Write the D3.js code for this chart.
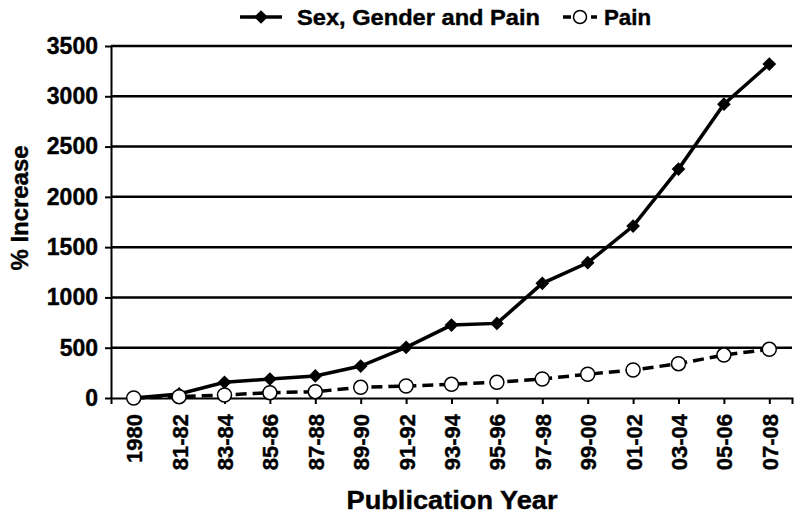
<!DOCTYPE html>
<html>
<head>
<meta charset="utf-8">
<script src="https://cdn.jsdelivr.net/npm/d3@7"></script>
<style>
  body { margin: 0; background: #fff; }
  text { font-family: "Liberation Sans", Arial, sans-serif; font-weight: bold; fill: #000; stroke: #000; stroke-width: 0.4px; }
</style>
</head>
<body>
<div id="chart"></div>
<script>
// categories (publication year)
var years = ["1980","81-82","83-84","85-86","87-88","89-90","91-92","93-94","95-96","97-98","99-00","01-02","03-04","05-06","07-08"];
// % increase
var sexGenderPain = [0, 40, 156, 189, 219, 318, 504, 725, 742, 1140, 1345, 1710, 2276, 2922, 3320];
var pain = [0, 13, 30, 53, 63, 106, 119, 136, 156, 189, 236, 278, 341, 427, 484];
var yTicks = [0, 500, 1000, 1500, 2000, 2500, 3000, 3500];

var W = 800, H = 518;
var margin = {top: 46, right: 8, bottom: 120, left: 111},
    width = W - margin.left - margin.right,
    height = H - margin.top - margin.bottom;

var svgRoot = d3.select("#chart").append("svg")
    .attr("width", W)
    .attr("height", H);
var svg = svgRoot.append("g")
    .attr("transform", `translate(${margin.left},${margin.top})`);

var x = d3.scalePoint()
    .domain(years)
    .range([0, width])
    .padding(0.5);

var y = d3.scaleLinear()
    .domain([0, 3500])
    .range([height, 0]);

// horizontal gridlines
svg.append("g")
  .selectAll("line")
  .data(yTicks.filter(d => d > 0))
  .join("line")
    .attr("x1", 0)
    .attr("x2", width)
    .attr("y1", d => y(d))
    .attr("y2", d => y(d))
    .attr("stroke", "#000")
    .attr("stroke-width", 2.5);

// y axis
var yAxis = svg.append("g")
    .call(d3.axisLeft(y).tickValues(yTicks).tickFormat(d3.format("d")).tickSize(6).tickSizeOuter(0));
yAxis.select(".domain").attr("stroke-width", 2);
yAxis.selectAll(".tick line").attr("stroke-width", 2);
yAxis.selectAll(".tick text")
    .attr("font-size", "23px")
    .attr("x", -13)
    .attr("fill", "#000");

// x axis
var xAxis = svg.append("g")
    .attr("transform", `translate(0,${height})`)
    .call(d3.axisBottom(x).tickSize(6).tickSizeOuter(6));
xAxis.select(".domain").attr("stroke-width", 2);
xAxis.selectAll(".tick line").attr("stroke-width", 2);
xAxis.selectAll(".tick text")
    .attr("font-size", "22px")
    .attr("fill", "#000")
    .attr("transform", "rotate(-90)")
    .attr("text-anchor", "end")
    .attr("x", -16)
    .attr("y", 0)
    .attr("dy", "0.36em");

// lines
var line = d3.line()
    .x((d, i) => x(years[i]))
    .y(d => y(d));

svg.append("path")
    .datum(pain)
    .attr("fill", "none")
    .attr("stroke", "#000")
    .attr("stroke-width", 3.5)
    .attr("stroke-dasharray", "11,6")
    .attr("d", line);

svg.append("path")
    .datum(sexGenderPain)
    .attr("fill", "none")
    .attr("stroke", "#000")
    .attr("stroke-width", 3.5)
    .attr("d", line);

// markers
var diamond = d3.symbol().type(d3.symbolDiamond2).size(120);
svg.append("g")
  .selectAll("path")
  .data(sexGenderPain)
  .join("path")
    .attr("d", diamond)
    .attr("transform", (d, i) => `translate(${x(years[i])},${y(d)})`)
    .attr("fill", "#000");

svg.append("g")
  .selectAll("circle")
  .data(pain)
  .join("circle")
    .attr("cx", (d, i) => x(years[i]))
    .attr("cy", d => y(d))
    .attr("r", 7)
    .attr("fill", "#fff")
    .attr("stroke", "#000")
    .attr("stroke-width", 1.5);

// axis titles
svgRoot.append("text")
    .attr("x", 452)
    .attr("y", 509)
    .attr("text-anchor", "middle")
    .attr("font-size", "25px")
    .attr("textLength", 211)
    .attr("lengthAdjust", "spacingAndGlyphs")
    .text("Publication Year");

svgRoot.append("text")
    .attr("transform", "translate(28,208) rotate(-90)")
    .attr("text-anchor", "middle")
    .attr("font-size", "23px")
    .attr("textLength", 125)
    .attr("lengthAdjust", "spacingAndGlyphs")
    .text("% Increase");

// legend
var legend = svgRoot.append("g");
legend.append("line")
    .attr("x1", 240).attr("x2", 282).attr("y1", 17).attr("y2", 17)
    .attr("stroke", "#000").attr("stroke-width", 3.5);
legend.append("path")
    .attr("d", diamond)
    .attr("transform", "translate(261,17)");
legend.append("text")
    .attr("x", 297).attr("y", 25)
    .attr("font-size", "22px")
    .attr("textLength", 243)
    .attr("lengthAdjust", "spacingAndGlyphs")
    .text("Sex, Gender and Pain");

legend.append("line")
    .attr("x1", 563).attr("x2", 597).attr("y1", 17).attr("y2", 17)
    .attr("stroke", "#000").attr("stroke-width", 3.5)
    .attr("stroke-dasharray", "8,6");
legend.append("circle")
    .attr("cx", 580).attr("cy", 17).attr("r", 6.5)
    .attr("fill", "#fff").attr("stroke", "#000").attr("stroke-width", 1.5);
legend.append("text")
    .attr("x", 604).attr("y", 25)
    .attr("font-size", "22px")
    .attr("textLength", 47)
    .attr("lengthAdjust", "spacingAndGlyphs")
    .text("Pain");
</script>
</body>
</html>
